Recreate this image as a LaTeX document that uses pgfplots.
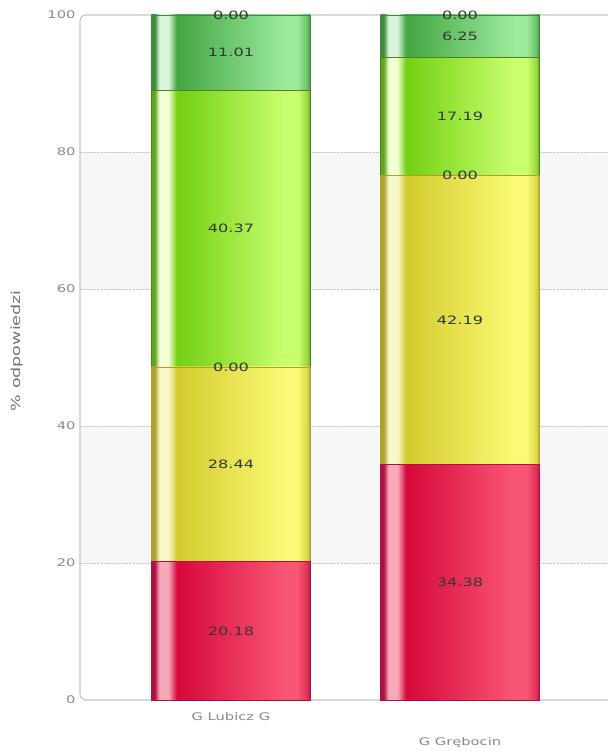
\documentclass[border=0pt]{standalone}
\usepackage{fontspec}
\setmainfont{DejaVu Sans}[FakeStretch=1.4]
\usepackage{pgfplots}
\pgfplotsset{compat=1.18}

\definecolor{redE}{HTML}{B01040}\definecolor{redH}{HTML}{F7A9BA}\definecolor{redS}{HTML}{D6083A}\definecolor{redB}{HTML}{F95575}\definecolor{redM}{HTML}{E03058}
\definecolor{yelE}{HTML}{ABA22C}\definecolor{yelH}{HTML}{F9F8C8}\definecolor{yelS}{HTML}{D2CB2E}\definecolor{yelB}{HTML}{FBFA74}\definecolor{yelM}{HTML}{DCD648}
\definecolor{grnE}{HTML}{5EA61E}\definecolor{grnH}{HTML}{F2FFD4}\definecolor{grnS}{HTML}{72D012}\definecolor{grnB}{HTML}{C9FF6E}\definecolor{grnM}{HTML}{98D840}
\definecolor{dgE}{HTML}{3E8A3E}\definecolor{dgH}{HTML}{DAF6DA}\definecolor{dgS}{HTML}{42A642}\definecolor{dgB}{HTML}{9CEA9C}\definecolor{dgM}{HTML}{6AC06A}
\definecolor{band}{HTML}{F6F6F6}
\definecolor{frame}{HTML}{C4C4C4}
\definecolor{ticktxt}{HTML}{888888}
\definecolor{valtxt}{HTML}{363636}

\newcommand\barshading[6]{%
\pgfdeclarehorizontalshading{#1}{100bp}{color(0bp)=(#2); color(25bp)=(#2); color(26bp)=(#2); color(27.5bp)=(#3); color(30.3bp)=(#3); color(33bp)=(#4); color(67bp)=(#5); color(71bp)=(#5); color(74bp)=(#6); color(75bp)=(#2); color(100bp)=(#2)}}
\barshading{redbar}{redE}{redH}{redS}{redB}{redM}
\barshading{yelbar}{yelE}{yelH}{yelS}{yelB}{yelM}
\barshading{grnbar}{grnE}{grnH}{grnS}{grnB}{grnM}
\barshading{dgbar}{dgE}{dgH}{dgS}{dgB}{dgM}

\pgfplotsset{
  common/.style={
    scale only axis, width=528bp, height=685bp,
    xmin=-0.659, xmax=1.646, ymin=0, ymax=100,
    clip=false,
  },
  barax/.style={common,
    ybar stacked, bar width=0.694,
    axis line style={draw=none},
    tick style={draw=none},
    ytick={20,40,60,80}, yticklabels={},
    xtick=\empty,
  },
  s1/.style={shade, shading=redbar, draw=redE, line width=0.6bp},
  s2/.style={shade, shading=yelbar, draw=yelE, line width=0.6bp},
  s3/.style={shade, shading=grnbar, draw=grnE!80!black, line width=0.6bp},
  s4/.style={shade, shading=dgbar, draw=dgE, line width=0.6bp},
}

\begin{document}
\begin{tikzpicture}
% background axis: bands, frame, tick labels, axis label
\begin{axis}[common,
  axis line style={draw=none},
  tick style={draw=none},
  ytick={0,20,40,60,80,100},
  xtick={0,1},
  xticklabels={{G Lubicz G},{\vphantom{G}\\[15bp]G Grębocin}},
  xticklabel style={align=center, font=\fontsize{10.5bp}{10bp}\selectfont, text=ticktxt, yshift=-9bp},
  yticklabel style={font=\fontsize{10.5bp}{12bp}\selectfont, text=ticktxt, xshift=-1bp},
  /pgf/number format/assume math mode=true,
  ylabel={\% odpowiedzi},
  ylabel style={at={(axis description cs:-0.119,0.51)}, anchor=center, font=\fontsize{12.5bp}{14bp}\selectfont, text=ticktxt!85!black},
]
  \fill[band] (axis cs:-0.659,20) rectangle (axis cs:1.646,40);
  \fill[band] (axis cs:-0.659,60) rectangle (axis cs:1.646,80);
  \draw[frame, line width=1.2bp, rounded corners=6bp] (rel axis cs:1,1) -- (rel axis cs:0,1) -- (rel axis cs:0,0) -- (rel axis cs:1,0);
\end{axis}
% bar 1 (G Lubicz G) with dotted grid
\begin{axis}[barax, ymajorgrids, grid style={densely dotted, gray!42, line width=0.8bp}]
\addplot[s1] coordinates {(0,20.18)};
\addplot[s2] coordinates {(0,28.44)};
\addplot[s3] coordinates {(0,40.37)};
\addplot[s4] coordinates {(0,11.01)};
\end{axis}
% bar 2 (G Grębocin)
\begin{axis}[barax]
\addplot[s1] coordinates {(1,34.38)};
\addplot[s2] coordinates {(1,42.19)};
\addplot[s3] coordinates {(1,17.19)};
\addplot[s4] coordinates {(1,6.25)};
\end{axis}
% value labels
\begin{axis}[common, hide axis]
\addplot[only marks, mark=*, mark size=0.01pt, mark options={draw=none, fill=none},
  nodes near coords, point meta=explicit symbolic,
  every node near coord/.style={anchor=center, text=valtxt, font=\fontsize{11.5bp}{12bp}\selectfont}]
coordinates {
 (0,10.09)[20.18] (0,34.40)[28.44] (0,48.62)[0.00] (0,68.80)[40.37] (0,94.50)[11.01] (0,100)[0.00]
 (1,17.19)[34.38] (1,55.48)[42.19] (1,76.57)[0.00] (1,85.17)[17.19] (1,96.88)[6.25] (1,100)[0.00]
};
\end{axis}
\pgfresetboundingbox
\path (current axis.south west) ++(-80bp,-51bp) rectangle ++(608bp,751bp);
\end{tikzpicture}
\end{document}
